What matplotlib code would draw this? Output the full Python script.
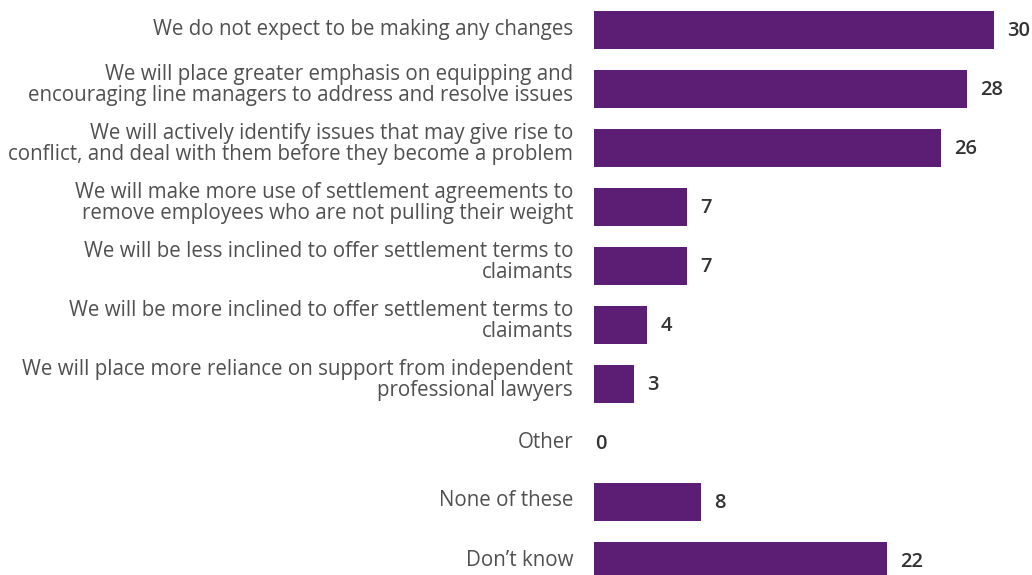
import matplotlib
matplotlib.use("Agg")
import matplotlib.pyplot as plt

# Survey responses (% of respondents)
categories = [
    "We do not expect to be making any changes",
    "We will place greater emphasis on equipping and\nencouraging line managers to address and resolve issues",
    "We will actively identify issues that may give rise to\nconflict, and deal with them before they become a problem",
    "We will make more use of settlement agreements to\nremove employees who are not pulling their weight",
    "We will be less inclined to offer settlement terms to\nclaimants",
    "We will be more inclined to offer settlement terms to\nclaimants",
    "We will place more reliance on support from independent\nprofessional lawyers",
    "Other",
    "None of these",
    "Don\u2019t know",
]
values = [30, 28, 26, 7, 7, 4, 3, 0, 8, 22]

BAR_COLOR = "#5c1e74"
LABEL_COLOR = "#505050"
VALUE_COLOR = "#333333"

W, H = 1032, 575
fig = plt.figure(figsize=(W / 100, H / 100), dpi=100)

left_px = 594
px_per_unit = 400 / 30
xmax = 32
ax = fig.add_axes([left_px / W, 0, (xmax * px_per_unit) / W, 1])

pos = list(range(len(categories)))
ax.barh(pos, values, height=0.644, color=BAR_COLOR)
ax.set_xlim(0, xmax)
ax.set_ylim(545 / 59, -30 / 59)
ax.axis("off")

for i, (cat, v) in enumerate(zip(categories, values)):
    dy = 4 if "\n" in cat else 1
    ax.annotate(cat, xy=(0, i), xytext=(-21, dy), textcoords="offset pixels",
                ha="right", va="center", fontsize=14.8, family="Open Sans",
                color=LABEL_COLOR, linespacing=1.03, multialignment="right")
    ax.annotate(f"{v}", xy=(v, i), xytext=(13 if v > 0 else 1, -1),
                textcoords="offset pixels", ha="left", va="center",
                fontsize=14.5, family="Open Sans", fontweight="semibold",
                color=VALUE_COLOR)

fig.savefig("out.png", dpi=100)
